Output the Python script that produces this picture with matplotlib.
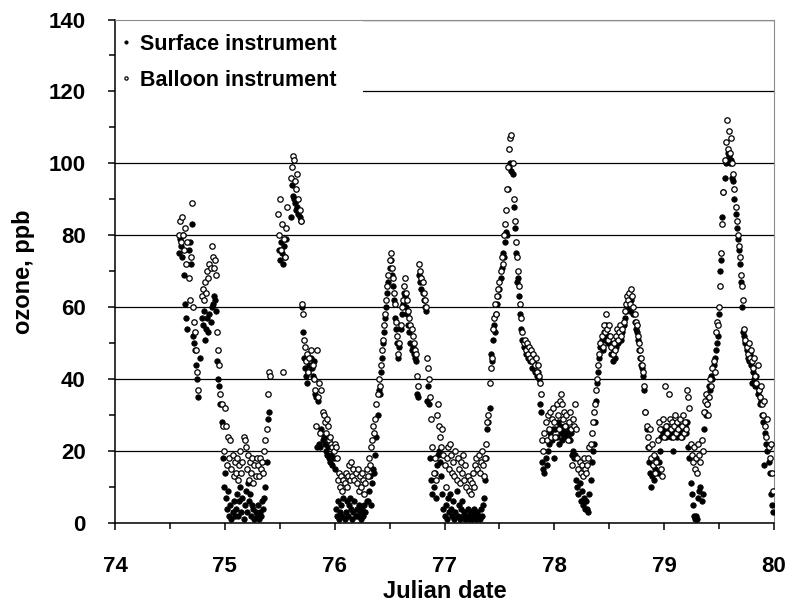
import numpy as np
import matplotlib
matplotlib.use('Agg')
import matplotlib.pyplot as plt
from matplotlib.ticker import MultipleLocator
from matplotlib.patches import Rectangle

nan = np.nan

# sampling clock: one reading every 0.01 day starting at day 74.50
T_START = 74.50
T_STEP = 0.01

# balloon instrument ozone (ppb), rows of 0.1 day
balloon = [
    nan, nan, nan, nan, nan, nan, nan, nan, 80, 84,          # 74.5
    78, 85, 80, 76, 82, 72, 78, 68, 62, 74,                  # 74.6
    89, 60, 56, 53, 48, 42, 37, nan, nan, 63,                # 74.7
    65, 62, 67, 64, 70, 68, 72, 71, 77, 74,                  # 74.8
    71, 73, 69, 53, 48, 44, 36, 33, 27, 20,                  # 74.9
    32, 27, 16, 24, 18, 23, 15, 19, 13, 17,                  # 75.0
    14, 18, 12, 16, 20, 14, 17, 24, 23, 21,                  # 75.1
    15, 19, 12, 17, 14, 18, 11, 16, 13, 18,                  # 75.2
    16, 13, 18, 15, 17, 14, 20, 23, 26, 36,                  # 75.3
    42, 41, nan, nan, nan, nan, nan, nan, 86, 80,            # 75.4
    90, 76, 83, 42, 79, 74, 82, 88, nan, nan,                # 75.5
    96, 99, 102, 101, 95, 93, 97, 90, 87, 84,                # 75.6
    61, 58, 51, 49, 45, 47, 42, 46, 48, 44,                  # 75.7
    44, 40, 37, 27, 48, 35, 39, 25, 37, 31,                  # 75.8
    30, 28, 25, 29, 27, 23, 24, 22, 21, 20,                  # 75.9
    22, 21, 18, 12, 14, 10, 13, 9, 12, 11,                   # 76.0
    14, 10, 13, 16, 12, 17, 13, 15, 12, 14,                  # 76.1
    11, 15, 9, 13, 10, 14, 12, 8, 11, 15,                    # 76.2
    13, 18, 16, 21, 23, 27, 25, 29, 33, 36,                  # 76.3
    40, 38, 44, 48, 51, 55, 58, 62, 66, 69,                  # 76.4
    73, 75, 71, 68, 64, 61, 56, 52, 47, 50,                  # 76.5
    55, 60, 62, 66, 68, 64, 62, 59, 57, 55,                  # 76.6
    54, 52, 50, 48, 47, 41, 38, 72, 70, 68,                  # 76.7
    67, 64, 62, 60, 46, 43, 40, 35, 29, 21,                  # 76.8
    14, 18, 12, 30, 33, 27, 24, 21, 26, 19,                  # 76.9
    16, 10, 18, 21, 15, 22, 19, 14, 17, 13,                  # 77.0
    20, 12, 18, 15, 11, 17, 14, 19, 12, 16,                  # 77.1
    10, 13, 9, 12, 8, 11, 14, 10, 16, 18,                    # 77.2
    15, 19, 14, 17, 20, 16, 13, 18, 22, 28,                  # 77.3
    30, 39, 43, 46, 54, 57, 61, 58, 63, 65,                  # 77.4
    67, 70, 74, 72, 80, 83, 87, 93, 99, 104,                 # 77.5
    107, 108, 100, 90, 84, 78, 74, 70, 66, 61,               # 77.6
    57, 53, 50, 51, 48, 50, 47, 49, 46, 48,                  # 77.7
    45, 47, 44, 46, 42, 44, 41, 39, 36, 23,                  # 77.8
    20, 25, 28, 23, 30, 26, 31, 24, 29, 32,                  # 77.9
    28, 24, 33, 30, 26, 34, 36, 33, 29, 31,                  # 78.0
    27, 30, 23, 28, 31, 26, 16, 29, 27, 33,                  # 78.1
    26, 18, 15, 17, 14, 16, 13, 18, 15, 14,                  # 78.2
    16, 18, 21, 22, 25, 28, 31, 33, 37, 40,                  # 78.3
    44, 47, 50, 52, 49, 55, 53, 58, 54, 51,                  # 78.4
    55, 52, 49, 47, 50, 48, 52, 54, 51, 53,                  # 78.5
    55, 52, 54, 56, 59, 61, 63, 62, 64, 61,                  # 78.6
    65, 63, 60, 58, 56, 55, 52, 50, 48, 46,                  # 78.7
    44, 42, 38, 31, 27, 24, 21, 26, 18, 22,                  # 78.8
    16, 19, 14, 17, 23, 28, 26, 15, 13, 29,                  # 78.9
    24, 38, 27, 25, 36, 29, 26, 28, 24, 27,                  # 79.0
    30, 25, 28, 26, 29, 24, 27, 30, 25, 28,                  # 79.1
    26, 37, 35, 32, 22, 19, 17, 21, 15, 18,                  # 79.2
    14, 22, 19, 17, 23, 20, 31, 34, 36, 33,                  # 79.3
    30, 35, 40, 38, 43, 45, 42, 53, 56, 55,                  # 79.4
    60, 66, 75, 83, 92, 101, 106, 112, 104, 109,             # 79.5
    103, 107, 100, 97, 93, 88, 84, 80, 77, 74,               # 79.6
    69, 66, 62, 54, 51, 49, 47, 50, 46, 48,                  # 79.7
    45, 43, 46, 41, 39, 44, 37, 35, 38, 33,                  # 79.8
    30, 34, 27, 24, 29, 21, 18, 22, 14, 9,                   # 79.9
]

# surface instrument ozone (ppb), same clock
surface = [
    nan, nan, nan, nan, nan, nan, nan, nan, 75, 79,          # 74.5
    77, 74, 80, 69, 61, 57, 54, 76, 78, 72,                  # 74.6
    83, 52, 50, 48, 44, 40, 35, 46, nan, 57,                 # 74.7
    55, 59, 51, 54, 57, 53, 58, 56, 60, 61,                  # 74.8
    63, 62, 59, 45, 40, 38, 33, 28, 18, 10,                  # 74.9
    14, 7, 4, 9, 2, 5, 1, 3, 6, 2,                           # 75.0
    4, 8, 2, 6, 10, 3, 7, 1, 5, 9,                           # 75.1
    3, 11, 6, 8, 2, 5, 4, 1, 3, 2,                           # 75.2
    5, 1, 3, 2, 6, 4, 7, 10, 17, 29,                         # 75.3
    31, nan, nan, nan, nan, nan, nan, nan, nan, 76,          # 75.4
    73, 78, 75, 72, 77, 74, 79, nan, nan, nan,               # 75.5
    85, 94, 91, 90, 89, 87, 88, 86, 85, 84,                  # 75.6
    60, 53, 46, 43, 41, 39, 42, 44, 46, 43,                  # 75.7
    41, 45, 36, 35, 21, 34, 22, 21, 26, 23,                  # 75.8
    24, 22, 20, 19, 21, 18, 17, 19, 16, 18,                  # 75.9
    15, 4, 2, 6, 1, 3, 5, 2, 7, 1,                           # 76.0
    3, 6, 2, 5, 7, 4, 1, 3, 6, 2,                            # 76.1
    4, 2, 5, 3, 1, 4, 2, 5, 3, 6,                            # 76.2
    6, 9, 13, 5, 11, 15, 14, 19, 24, 30,                     # 76.3
    37, 36, 42, 46, 50, 53, 57, 60, 64, 67,                  # 76.4
    71, 73, 69, 66, 62, 57, 54, 50, 46, 49,                  # 76.5
    54, 58, 61, 64, 63, 60, 58, 55, 53, 50,                  # 76.6
    48, 49, 47, 46, 45, 36, 35, 69, 67, 65,                  # 76.7
    64, 62, 60, 59, 34, 38, 33, 18, 12, 8,                   # 76.8
    10, 14, 7, 16, 19, 20, 17, 13, 8, 4,                     # 76.9
    2, 5, 1, 7, 3, 8, 4, 2, 6, 1,                            # 77.0
    3, 9, 2, 5, 1, 4, 6, 2, 3, 1,                            # 77.1
    2, 4, 1, 3, 2, 1, 3, 4, 2, 1,                            # 77.2
    3, 2, 1, 4, 2, 5, 7, 12, 18, 26,                         # 77.3
    28, 32, 47, 45, 51, 55, 53, 58, 61, 63,                  # 77.4
    65, 68, 71, 75, 74, 78, 81, 80, 93, 99,                  # 77.5
    100, 98, 97, 88, 82, 75, 67, 68, 63, 58,                 # 77.6
    54, 51, 49, 50, 47, 48, 46, 47, 45, 46,                  # 77.7
    43, 45, 42, 44, 41, 42, 40, 33, 31, 17,                  # 77.8
    15, 14, 18, 16, 20, 22, 25, 24, 23, 26,                  # 77.9
    18, 26, 24, 28, 22, 27, 25, 23, 26, 24,                  # 78.0
    27, 25, 24, 26, 23, 25, 19, 20, 18, 19,                  # 78.1
    12, 10, 8, 11, 6, 9, 5, 7, 4, 6,                         # 78.2
    4, 3, 8, 12, 17, 20, 22, 28, 34, 39,                     # 78.3
    42, 46, 49, 51, 48, 53, 51, 55, 52, 50,                  # 78.4
    52, 50, 47, 45, 48, 46, 49, 51, 50, 52,                  # 78.5
    53, 51, 53, 55, 57, 59, 61, 60, 62, 59,                  # 78.6
    62, 60, 58, 56, 54, 53, 51, 48, 46, 44,                  # 78.7
    43, 41, 37, 31, 26, 21, 17, 14, 10, 13,                  # 78.8
    16, 12, 15, 18, 14, 17, 20, 24, 26, 25,                  # 78.9
    25, 26, 24, 27, 25, 26, 24, 25, 20, 26,                  # 79.0
    25, 27, 24, 26, 25, 27, 24, 26, 25, 27,                  # 79.1
    25, 28, 21, 18, 11, 8, 5, 2, 1, 2,                       # 79.2
    1, 7, 9, 10, 6, 8, 26, 31, 30, 33,                       # 79.3
    35, 38, 37, 41, 40, 44, 46, 48, 50, 52,                  # 79.4
    58, 70, 73, 85, 92, 96, 100, 101, 103, 102,              # 79.5
    100, 101, 96, 95, 90, 86, 82, 79, 76, 72,                # 79.6
    67, 60, 53, 52, 50, 48, 46, 45, 47, 44,                  # 79.7
    39, 42, 40, 38, 41, 36, 37, 33, 34, 30,                  # 79.8
    28, 16, 25, 22, 20, 17, 14, 8, 5, 3,                     # 79.9
]

Y_TICKS = [0, 20, 40, 60, 80, 100, 120, 140]
X_TICKS = [74, 75, 76, 77, 78, 79, 80]

plt.rcParams['font.family'] = ['Liberation Sans', 'DejaVu Sans']
plt.rcParams['font.weight'] = 'bold'

t = T_START + T_STEP * np.arange(len(balloon))

fig = plt.figure(figsize=(7.94, 6.09), dpi=100)
ax = fig.add_axes([115/794, 86/609, 659/794, 503.5/609])

ax.plot(t, surface, 'o', ls='none', ms=3.9, mfc='black', mec='black', mew=0.6,
        label='Surface instrument', zorder=3)
ax.plot(t, balloon, 'o', ls='none', ms=3.9, mfc='white', mec='black', mew=0.9,
        label='Balloon instrument', zorder=4)

ax.set_xlim(74, 80)
ax.set_ylim(0, 140)
ax.set_xticks(X_TICKS)
ax.set_yticks(Y_TICKS)
ax.xaxis.set_minor_locator(MultipleLocator(0.5))
ax.yaxis.set_minor_locator(MultipleLocator(10))
ax.tick_params(which='major', direction='out', length=5, width=1.1, labelsize=16)
ax.tick_params(which='minor', direction='out', length=4.5, width=1.1)
ax.tick_params(axis='x', which='major', pad=19)
ax.tick_params(axis='y', which='major', pad=16)

ax.yaxis.grid(True, color='black', lw=0.9)
for side in ['top', 'right']:
    ax.spines[side].set_color('#8c8c8c')
for side in ['left', 'bottom']:
    ax.spines[side].set_color('black')
    ax.spines[side].set_linewidth(1.1)

# white box behind the legend hides the top gridline
ax.add_patch(Rectangle((0, 0.84), 0.376, 0.16, transform=ax.transAxes,
                       facecolor='white', edgecolor='none', zorder=1.6))

ax.legend(loc='upper left', bbox_to_anchor=(0.004, 0.972), frameon=False,
          fontsize=15.5, markerscale=0.6, handlelength=0.8, handletextpad=0.25,
          borderpad=0, borderaxespad=0, labelspacing=0.7)

ax.set_xlabel('Julian date', fontsize=17, fontweight='bold', labelpad=2)
ax.set_ylabel('ozone, ppb', fontsize=17, fontweight='bold', labelpad=10)

fig.savefig('out.png', dpi=100)
